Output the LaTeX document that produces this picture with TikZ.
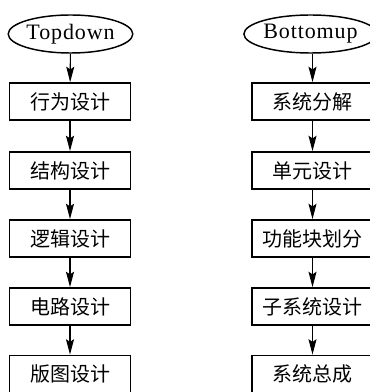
\documentclass[tikz,border=0pt]{standalone}
\usepackage{fontspec}
\setmainfont{Liberation Serif}
\newfontfamily\cjk{Noto Sans CJK SC}
\newfontfamily\spacedserif[LetterSpace=4]{Liberation Serif}
\usetikzlibrary{shapes.geometric,arrows.meta}
\begin{document}
\begin{tikzpicture}[x=0.75pt,y=-0.75pt,
  startnode/.style={ellipse,draw,line width=1.1pt,inner sep=0pt,minimum width=92pt,minimum height=28.5pt,font=\spacedserif\fontsize{16.5}{18}\selectfont},
  stepbox/.style={rectangle,draw,line width=1.1pt,inner sep=0pt,minimum width=90.5pt,minimum height=28pt,font=\cjk\fontsize{15}{17}\selectfont},
  conn/.style={line width=0.8pt,-{Stealth[length=11.5pt,width=6pt,inset=2pt]}}]
\useasboundingbox (0,0) rectangle (370,392);
\begin{scope}
\clip (0,0) rectangle (370,392);
\node[startnode] (t0) at (70.5,34) {Topdown};
\node[stepbox] (t1) at (70,101.5) {行为设计};
\node[stepbox] (t2) at (70,170.5) {结构设计};
\node[stepbox] (t3) at (70,238.5) {逻辑设计};
\node[stepbox] (t4) at (70,306.5) {电路设计};
\node[stepbox] (t5) at (70,374) {版图设计};
\node[startnode] (b0) at (310.5,34) {Bottomup};
\node[stepbox] (b1) at (312.5,101.5) {系统分解};
\node[stepbox] (b2) at (312.5,170.5) {单元设计};
\node[stepbox] (b3) at (312.5,238.5) {功能块划分};
\node[stepbox] (b4) at (312.5,306.5) {子系统设计};
\node[stepbox] (b5) at (312.5,374) {系统总成};
\draw[conn] (t0) -- (t1);
\draw[conn] (t1) -- (t2);
\draw[conn] (t2) -- (t3);
\draw[conn] (t3) -- (t4);
\draw[conn] (t4) -- (t5);
\draw[conn] (b0.south -| b1.north) -- (b1);
\draw[conn] (b1) -- (b2);
\draw[conn] (b2) -- (b3);
\draw[conn] (b3) -- (b4);
\draw[conn] (b4) -- (b5);
\end{scope}
\end{tikzpicture}
\end{document}
